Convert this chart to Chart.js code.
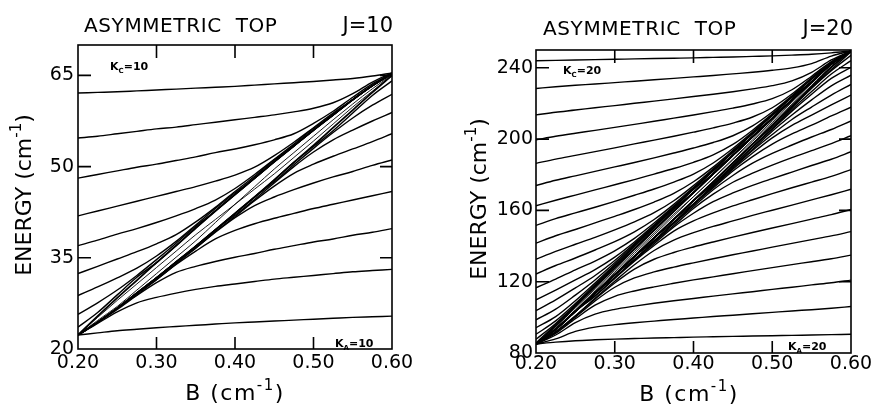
<!DOCTYPE html>
<html lang="en">
  <head>
    <meta charset="UTF-8" />
    <script src="https://cdn.jsdelivr.net/npm/chart.js@4.4.1/dist/chart.umd.min.js"></script>
    <title>Asymmetric top</title>
    <style>
      body { margin: 0; background: #fff; }
      canvas { position: absolute; top: 0; }
      #left { left: 0; }
      #right { left: 436px; }
    </style>
  </head>
  <body>
    <canvas id="left" width="436" height="409"></canvas>
    <canvas id="right" width="437" height="409"></canvas>
    <script>
      const bValues = [0.2, 0.225, 0.25, 0.275, 0.3, 0.325, 0.35, 0.375, 0.4,
                       0.425, 0.45, 0.475, 0.5, 0.525, 0.55, 0.575, 0.6];
      const bTicks = [0.2, 0.3, 0.4, 0.5, 0.6];

      // ---- J = 10 ----
      const j10Ticks = [20, 35, 50, 65];
      const j10BandUpper = [22.3, 25.4, 28.4, 31.3, 34.2, 37.0, 39.9, 42.7, 45.4, 48.1, 50.8, 53.4, 56.0, 58.5, 61.0, 63.3, 65.3];
      const j10BandLower = [22.3, 24.4, 26.7, 29.2, 31.7, 34.3, 36.9, 39.6, 42.3, 45.0, 47.8, 50.7, 53.5, 56.4, 59.3, 62.2, 65.0];
      const j10Cross = [
        [22.3, 24.7, 27.0, 29.7, 32.4, 35.1, 37.8, 40.8, 43.8, 46.7, 49.6, 52.3, 55.0, 57.7, 60.3, 62.8, 65.1],
        [22.3, 25.2, 28.0, 30.7, 33.4, 36.1, 38.8, 41.3, 43.8, 46.3, 48.8, 51.5, 54.2, 57.0, 59.8, 62.4, 64.9],
      ];
      // curves leaving the left edge (Ka = 10 .. 2), read until they join the upper band
      const j10FromLeft = [
        [62.1, 62.2, 62.3, 62.45, 62.6, 62.75, 62.9, 63.05, 63.2, 63.4, 63.6, 63.8, 64.0, 64.25, 64.5, 64.9, 65.4],
        [54.7, 55.0, 55.4, 55.8, 56.2, 56.5, 56.9, 57.3, 57.7, 58.1, 58.5, 59.0, 59.6, 60.5, 62.0, 63.9, 65.4],
        [48.1, 48.7, 49.3, 49.9, 50.4, 51.0, 51.6, 52.3, 52.9, 53.6, 54.4, 55.4, 57.1, 59.1, 61.4, 63.6, 65.3],
        [41.9, 42.7, 43.5, 44.3, 45.1, 45.9, 46.7, 47.6, 48.6, 49.9, 51.8, 54.0, 56.4, 58.8],
        [37.0, 37.9, 38.9, 39.8, 40.8, 41.9, 43.1, 44.5, 46.4, 48.7, 51.2, 53.7, 56.3],
        [32.4, 33.6, 34.8, 36.0, 37.3, 38.8, 40.9, 43.3, 45.9, 48.4, 51.1],
        [28.8, 30.2, 31.7, 33.3, 35.3, 37.7, 40.4, 43.1, 45.7],
        [25.7, 27.6, 29.7, 32.1, 34.7, 37.4, 40.2],
        [23.6, 26.0, 28.9, 31.8],
      ];
      const j10ToRight = [
        [22.3, 22.65, 23.0, 23.25, 23.5, 23.7, 23.9, 24.1, 24.3, 24.45, 24.6, 24.75, 24.9, 25.05, 25.2, 25.3, 25.4],
        [22.3, 24.2, 26.1, 27.6, 28.5, 29.2, 29.8, 30.3, 30.7, 31.1, 31.5, 31.8, 32.1, 32.4, 32.7, 32.9, 33.1],
        [26.5, 28.8, 30.9, 32.6, 33.6, 34.4, 35.1, 35.7, 36.4, 37.0, 37.6, 38.1, 38.7, 39.2, 39.8],
        [28.9, 31.4, 33.9, 36.1, 38.1, 39.5, 40.6, 41.5, 42.3, 43.1, 43.8, 44.5, 45.2, 45.9],
        [31.4, 34.0, 36.6, 39.2, 41.6, 43.6, 45.0, 46.2, 47.3, 48.3, 49.2, 50.2, 51.1],
        [36.6, 39.3, 41.8, 44.4, 46.8, 48.9, 50.4, 51.7, 52.9, 54.1, 55.4],
        [42.0, 44.6, 47.3, 50.0, 52.4, 54.4, 56.0, 57.5, 58.9],
        [47.5, 50.3, 53.0, 55.6, 58.0, 60.1, 61.9],
        [53.3, 55.9, 58.8, 61.7, 64.1],
      ];

      // ---- J = 20 ----
      const j20Ticks = [80, 120, 160, 200, 240];
      const j20BandUpper = [85, 95.2, 106.1, 116.9, 127.6, 138.3, 148.9, 159.5, 170.0, 180.5, 190.9, 201.3, 211.6, 221.9, 232.1, 242.2, 249.5];
      const j20BandLower = [85, 93.3, 103.4, 113.6, 123.9, 134.2, 144.6, 155.0, 165.5, 176.0, 186.6, 197.2, 207.9, 218.6, 229.4, 240.3, 249.5];
      const j20Cross = [
        [85, 94.0, 104.2, 114.8, 125.3, 135.8, 146.3, 156.9, 167.7, 178.3, 188.9, 199.6, 210.2, 220.7, 231.2, 241.6, 249.5],
        [85, 94.7, 105.3, 115.8, 126.3, 136.9, 147.3, 157.9, 167.7, 177.9, 188.4, 198.8, 209.2, 219.6, 230.2, 240.8, 249.5],
      ];
      // Ka = 20 .. 2
      const j20FromLeft = [
        [244.0, 244.2, 244.4, 244.6, 244.8, 245.0, 245.2, 245.4, 245.6, 245.85, 246.1, 246.4, 246.7, 247.1, 247.6, 248.4, 249.5],
        [228.4, 229.4, 230.2, 230.9, 231.7, 232.5, 233.3, 234.1, 234.9, 235.7, 236.6, 237.5, 238.6, 240.0, 242.4, 246.6, 249.5],
        [213.6, 215.1, 216.3, 217.6, 218.8, 220.1, 221.3, 222.6, 223.9, 225.2, 226.6, 228.2, 230.0, 232.7, 237.5, 244.4, 249.5],
        [199.6, 201.6, 203.3, 204.9, 206.6, 208.3, 210.0, 211.8, 213.5, 215.4, 217.4, 219.7, 222.7, 227.7, 235.3, 243.5, 249.5],
        [186.4, 188.8, 190.9, 193.0, 195.1, 197.3, 199.4, 201.6, 203.9, 206.3, 209.0, 212.4, 217.6, 225.3, 234.4, 243.0, 249.5],
        [174.0, 176.9, 179.4, 181.9, 184.4, 186.9, 189.5, 192.2, 195.0, 198.1, 201.9, 207.4, 215.2, 224.3, 233.9, 242.7, 249.5],
        [162.6, 165.7, 168.6, 171.5, 174.4, 177.3, 180.4, 183.5, 187.0, 191.2, 197.0, 205.0, 214.2, 223.8, 233.6, 242.5, 249.5],
        [151.6, 155.4, 158.6, 161.8, 165.1, 168.5, 172.0, 175.9, 180.4, 186.6, 194.7, 204.0, 213.7, 223.6],
        [141.6, 145.8, 149.3, 153.0, 156.7, 160.5, 164.7, 169.6, 176.1, 184.3, 193.7, 203.5, 213.4, 223.3],
        [132.6, 137.0, 141.0, 144.9, 149.1, 153.6, 158.7, 165.4, 173.9, 183.3, 193.1, 203.2, 213.1],
        [124.3, 129.1, 133.3, 137.8, 142.5, 148.0, 154.9, 163.4, 172.9, 182.8, 192.9, 202.9],
        [116.6, 121.5, 126.7, 131.6, 137.3, 144.3, 152.9, 162.4, 172.4, 182.5, 192.6],
        [109.8, 115.3, 121.0, 126.8, 133.8, 142.3, 151.9, 161.9, 172.1, 182.3, 192.5],
        [103.8, 109.8, 116.5, 123.5, 131.9, 141.4, 151.4, 161.6, 172.0, 182.1],
        [98.6, 104.6, 112.5, 121.0, 130.6, 140.8, 151.1, 161.4, 171.8],
        [94.2, 100.4, 109.3, 119.3, 129.6, 140.2, 150.6, 161.0],
        [90.5, 98.0, 107.8, 118.4, 129.0, 139.6, 150.2, 160.7],
        [87.7, 96.6, 107.0, 117.9, 128.7],
        [85.7, 96.0, 106.8, 117.6],
      ];
      // Kc = 20 .. 2
      const j20ToRight = [
        [85.0, 86.1, 86.9, 87.4, 87.8, 88.1, 88.4, 88.65, 88.9, 89.1, 89.3, 89.5, 89.7, 89.9, 90.1, 90.3, 90.5],
        [85.0, 87.9, 92.1, 94.5, 95.9, 97.0, 97.9, 98.8, 99.6, 100.45, 101.2, 102.0, 102.8, 103.6, 104.3, 105.1, 106.1],
        [85.0, 90.1, 97.0, 101.8, 104.5, 106.3, 107.9, 109.3, 110.6, 111.9, 113.2, 114.4, 115.7, 116.9, 118.2, 119.4, 120.9],
        [85.0, 91.0, 99.2, 106.8, 111.8, 114.8, 117.1, 119.1, 121.0, 122.7, 124.5, 126.2, 127.9, 129.6, 131.2, 132.9, 134.9],
        [85.0, 91.5, 100.1, 109.2, 116.9, 122.1, 125.5, 128.2, 130.6, 132.9, 135.1, 137.2, 139.4, 141.5, 143.6, 145.7, 148.1],
        [85.0, 91.8, 100.6, 110.2, 119.3, 127.1, 132.6, 136.4, 139.5, 142.3, 145.0, 147.6, 150.1, 152.6, 155.1, 157.6, 160.5],
        [85.0, 92.0, 100.9, 110.7, 120.3, 129.5, 137.5, 143.3, 147.5, 151.0, 154.1, 157.2, 160.1, 163.0, 165.9, 168.8, 171.9],
        [111.9, 121.8, 131.5, 140.3, 148.4, 154.1, 158.6, 162.5, 166.0, 169.4, 172.7, 175.9, 179.1, 182.9],
        [112.2, 122.1, 132.0, 141.3, 150.7, 158.4, 164.9, 169.8, 174.0, 177.8, 181.5, 185.2, 188.7, 192.9],
        [122.4, 132.3, 142.2, 151.5, 161.1, 169.1, 175.8, 180.9, 185.4, 189.6, 193.5, 197.5, 201.9],
        [132.6, 142.6, 152.7, 162.1, 171.6, 179.6, 186.5, 192.0, 196.7, 201.2, 205.4, 210.2],
        [142.9, 153.0, 163.1, 172.6, 182.1, 190.2, 197.2, 202.9, 207.8, 213.0, 217.9],
        [143.0, 153.2, 163.4, 173.1, 183.1, 192.2, 200.7, 207.7, 213.5, 219.2, 224.7],
        [153.4, 163.5, 173.9, 183.6, 193.6, 202.6, 211.0, 218.0, 224.7, 230.7],
        [163.7, 174.1, 184.4, 194.2, 204.4, 213.5, 222.0, 229.9, 235.9],
        [174.5, 184.9, 195.3, 205.4, 215.7, 225.2, 234.1, 240.3],
        [174.8, 185.3, 195.9, 206.0, 216.6, 226.7, 236.5, 244.0],
        [206.8, 217.6, 228.5, 238.4, 247.0],
        [217.9, 228.7, 239.0, 249.0],
      ];

      const FONT = "'DejaVu Sans', sans-serif";
      Chart.defaults.font.family = FONT;
      Chart.defaults.color = "#000";

      // a curve read from the left edge runs on along the upper band after it joins it
      function joinLeft(own, band) {
        return band.map((v, i) => (i < own.length ? own[i] : v));
      }
      // a curve read back from the right edge comes out of the lower band
      function joinRight(own, band) {
        const start = band.length - own.length;
        return band.map((v, i) => (i >= start ? own[i - start] : v));
      }

      function curve(ys, width) {
        return {
          data: bValues.map((b, i) => ({ x: b, y: ys[i] })),
          borderColor: "#000",
          borderWidth: width,
          pointRadius: 0,
          fill: false,
          cubicInterpolationMode: "monotone",
        };
      }

      // draws a row of text pieces (for sub/superscripts)
      function drawRun(ctx, runs, x, y, align) {
        let w = 0;
        runs.forEach((r) => {
          ctx.font = r.font;
          w += ctx.measureText(r.text).width;
        });
        let cx = align === "right" ? x - w : align === "center" ? x - w / 2 : x;
        runs.forEach((r) => {
          ctx.font = r.font;
          ctx.fillText(r.text, cx, y + (r.dy || 0));
          cx += ctx.measureText(r.text).width;
        });
      }

      const framePlugin = {
        id: "frame",
        afterDraw(chart, args, o) {
          const { ctx, chartArea: a } = chart;
          const xs = chart.scales.x;
          const ys = chart.scales.y;
          ctx.save();
          ctx.strokeStyle = "#000";
          ctx.lineWidth = 1.6;
          ctx.strokeRect(a.left, a.top, a.right - a.left, a.bottom - a.top);

          // inward tick marks on all four sides
          ctx.beginPath();
          bTicks.slice(1, -1).forEach((v) => {
            const px = xs.getPixelForValue(v);
            ctx.moveTo(px, a.bottom);
            ctx.lineTo(px, a.bottom - 12);
            ctx.moveTo(px, a.top);
            ctx.lineTo(px, a.top + 13);
          });
          o.yTicks.forEach((v) => {
            if (v === ys.min) return;
            const py = ys.getPixelForValue(v);
            ctx.moveTo(a.left, py);
            ctx.lineTo(a.left + 13, py);
            ctx.moveTo(a.right, py);
            ctx.lineTo(a.right - 12, py);
          });
          ctx.stroke();

          ctx.fillStyle = "#000";
          ctx.textBaseline = "alphabetic";
          ctx.letterSpacing = "0.6px";
          drawRun(ctx, [{ text: "ASYMMETRIC  TOP", font: "20px " + FONT }], o.titleX, o.titleY, "left");
          ctx.letterSpacing = "0px";
          drawRun(ctx, [{ text: o.jLabel, font: "21px " + FONT }], o.jRight, o.titleY, "right");

          // x axis title
          ctx.letterSpacing = "1.5px";
          drawRun(ctx, [
            { text: "B (cm", font: "22px " + FONT },
            { text: "-1", font: "15px " + FONT, dy: -10 },
            { text: ")", font: "22px " + FONT },
          ], o.xTitleX, o.xTitleY, "center");
          ctx.letterSpacing = "0px";

          // y axis title, reading upwards
          ctx.save();
          ctx.translate(o.yTitleX, o.yTitleY);
          ctx.rotate(-Math.PI / 2);
          drawRun(ctx, [
            { text: "ENERGY (cm", font: "22px " + FONT },
            { text: "-1", font: "15px " + FONT, dy: -10 },
            { text: ")", font: "22px " + FONT },
          ], 0, 0, "center");
          ctx.restore();

          // K labels
          drawRun(ctx, [
            { text: "K", font: "bold 11px " + FONT },
            { text: "C", font: "bold 7px " + FONT, dy: 3 },
            { text: "=" + o.jValue, font: "bold 11px " + FONT },
          ], o.kcX, o.kcY, "left");
          drawRun(ctx, [
            { text: "K", font: "bold 11px " + FONT },
            { text: "A", font: "bold 7px " + FONT, dy: 3 },
            { text: "=" + o.jValue, font: "bold 11px " + FONT },
          ], o.kaX, o.kaY, "left");
          ctx.restore();
        },
      };

      function makePanel(id, p) {
        const datasets = [];
        p.fromLeft.forEach((own) => datasets.push(curve(joinLeft(own, p.bandUpper), 1.4)));
        p.toRight.forEach((own) => datasets.push(curve(joinRight(own, p.bandLower), 1.4)));
        datasets.push(curve(p.bandUpper, 1.8));
        datasets.push(curve(p.bandLower, 1.8));
        p.cross.forEach((ys) => datasets.push(curve(ys, 0.9)));

        new Chart(document.getElementById(id), {
          type: "line",
          data: { datasets },
          plugins: [framePlugin],
          options: {
            responsive: false,
            animation: false,
            devicePixelRatio: 1,
            events: [],
            layout: { padding: { left: 0, top: p.top, right: p.right, bottom: 0 } },
            plugins: {
              legend: { display: false },
              tooltip: { enabled: false },
              frame: p.text,
            },
            scales: {
              x: {
                type: "linear",
                min: 0.2,
                max: 0.6,
                grid: { display: false, drawTicks: false },
                border: { display: false },
                afterBuildTicks: (s) => {
                  s.ticks = bTicks.map((v) => ({ value: v }));
                },
                afterFit: (s) => {
                  s.height = p.xHeight;
                },
                ticks: {
                  padding: p.xPad,
                  font: { size: 19 },
                  color: "#000",
                  maxRotation: 0,
                  callback: (v) => Number(v).toFixed(2),
                },
              },
              y: {
                type: "linear",
                min: p.yMin,
                max: p.yMax,
                grid: { display: false, drawTicks: false },
                border: { display: false },
                afterBuildTicks: (s) => {
                  s.ticks = p.yTicks.map((v) => ({ value: v }));
                },
                afterFit: (s) => {
                  s.width = p.yWidth;
                },
                ticks: {
                  padding: p.yPad,
                  font: { size: 19 },
                  color: "#000",
                  callback: (v) => String(v),
                },
              },
            },
          },
        });
      }

      makePanel("left", {
        fromLeft: j10FromLeft,
        toRight: j10ToRight,
        bandUpper: j10BandUpper,
        bandLower: j10BandLower,
        cross: j10Cross,
        yMin: 20,
        yMax: 70,
        yTicks: j10Ticks,
        top: 45,
        right: 44,
        xHeight: 60,
        yWidth: 78,
        xPad: 3,
        yPad: 4,
        text: {
          yTicks: j10Ticks, jLabel: "J=10", jValue: "10",
          titleX: 84, titleY: 32, jRight: 393,
          xTitleX: 235, xTitleY: 400,
          yTitleX: 31, yTitleY: 195,
          kcX: 110, kcY: 70, kaX: 335, kaY: 347,
        },
      });

      makePanel("right", {
        fromLeft: j20FromLeft,
        toRight: j20ToRight,
        bandUpper: j20BandUpper,
        bandLower: j20BandLower,
        cross: j20Cross,
        yMin: 80,
        yMax: 250,
        yTicks: j20Ticks,
        top: 50,
        right: 22,
        xHeight: 56,
        yWidth: 100,
        xPad: 0,
        yPad: 3,
        text: {
          yTicks: j20Ticks, jLabel: "J=20", jValue: "20",
          titleX: 107, titleY: 35, jRight: 417,
          xTitleX: 253, xTitleY: 401,
          yTitleX: 50, yTitleY: 199,
          kcX: 127, kcY: 74, kaX: 352, kaY: 350,
        },
      });
    </script>
  </body>
</html>
